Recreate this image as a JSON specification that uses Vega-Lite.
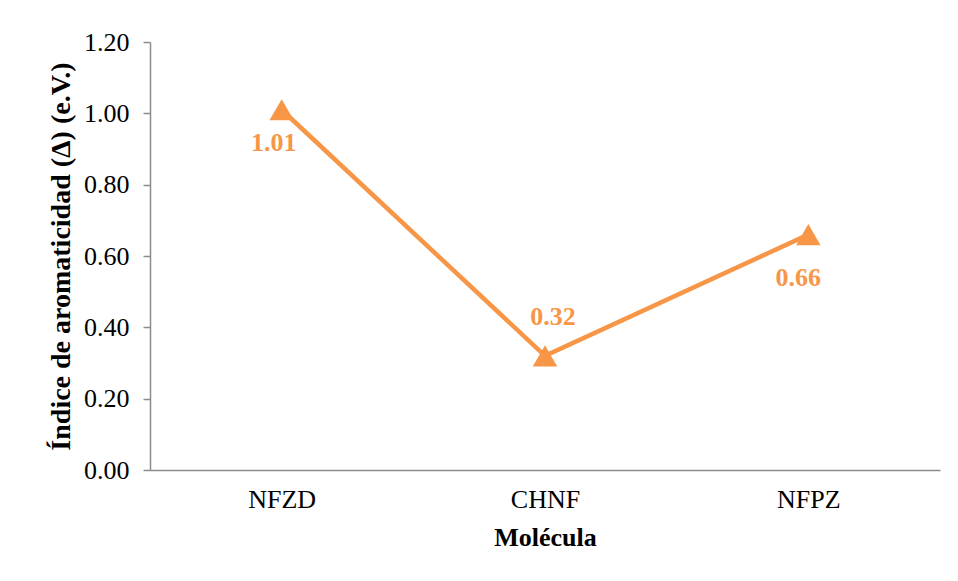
{
  "$schema": "https://vega.github.io/schema/vega-lite/v6.json",
  "width": 790,
  "height": 428,
  "autosize": {"type": "none"},
  "padding": {"left": 150, "top": 42, "right": 18, "bottom": 111},
  "background": "white",
  "config": {
    "view": {"stroke": null},
    "font": "Liberation Serif"
  },
  "data": {
    "values": [
      {"molecula": "NFZD", "indice": 1.01},
      {"molecula": "CHNF", "indice": 0.32},
      {"molecula": "NFPZ", "indice": 0.66}
    ]
  },
  "encoding": {
    "x": {
      "field": "molecula",
      "type": "nominal",
      "sort": null,
      "scale": {"type": "point", "padding": 0.5},
      "axis": {
        "title": "Molécula",
        "labelAngle": 0,
        "labelFont": "Liberation Serif",
        "labelFontSize": 26,
        "labelColor": "black",
        "labelPadding": 16,
        "ticks": false,
        "tickSize": 0,
        "domainColor": "#8c8c8c",
        "domainWidth": 1.5,
        "titleFont": "Liberation Serif",
        "titleFontSize": 26,
        "titleFontWeight": "bold",
        "titleColor": "black",
        "titlePadding": 12,
        "grid": false
      }
    },
    "y": {
      "field": "indice",
      "type": "quantitative",
      "scale": {"domain": [0, 1.2], "nice": false},
      "axis": {
        "title": "Índice de aromaticidad (Δ) (e.V.)",
        "values": [0, 0.2, 0.4, 0.6, 0.8, 1.0, 1.2],
        "format": ".2f",
        "labelFont": "Liberation Serif",
        "labelFontSize": 26,
        "labelColor": "black",
        "labelPadding": 14,
        "tickSize": 7,
        "tickColor": "#8c8c8c",
        "tickWidth": 1.5,
        "domainColor": "#8c8c8c",
        "domainWidth": 1.5,
        "titleFont": "Liberation Serif",
        "titleFontSize": 28,
        "titleFontWeight": "bold",
        "titleColor": "black",
        "titlePadding": 8,
        "grid": false
      }
    }
  },
  "layer": [
    {
      "mark": {"type": "line", "color": "#F79646", "strokeWidth": 4.5}
    },
    {
      "mark": {"type": "point", "shape": "triangle-up", "filled": true, "color": "#F79646", "opacity": 1, "size": 600}
    },
    {
      "transform": [{"filter": "datum.molecula === 'NFZD'"}],
      "mark": {"type": "text", "font": "Liberation Serif", "fontSize": 26, "fontWeight": "bold", "color": "#F79646", "dx": -8, "dy": 33},
      "encoding": {"text": {"field": "indice", "type": "quantitative", "format": ".2f"}}
    },
    {
      "transform": [{"filter": "datum.molecula === 'CHNF'"}],
      "mark": {"type": "text", "font": "Liberation Serif", "fontSize": 26, "fontWeight": "bold", "color": "#F79646", "dx": 8, "dy": -39},
      "encoding": {"text": {"field": "indice", "type": "quantitative", "format": ".2f"}}
    },
    {
      "transform": [{"filter": "datum.molecula === 'NFPZ'"}],
      "mark": {"type": "text", "font": "Liberation Serif", "fontSize": 26, "fontWeight": "bold", "color": "#F79646", "dx": -10, "dy": 43},
      "encoding": {"text": {"field": "indice", "type": "quantitative", "format": ".2f"}}
    }
  ]
}
